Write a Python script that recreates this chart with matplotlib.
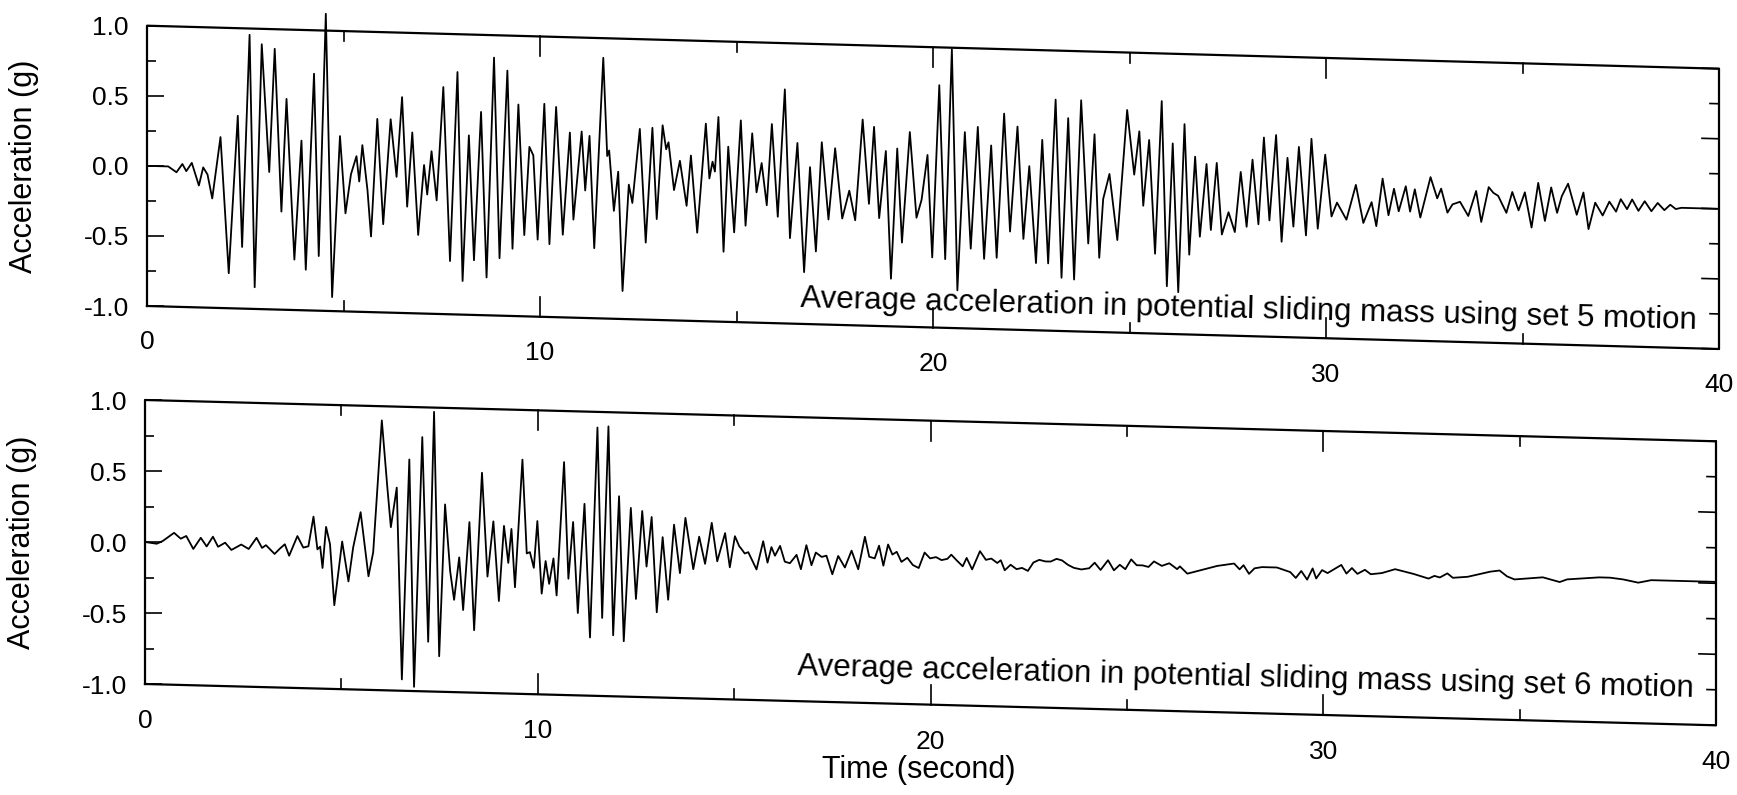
import numpy as np
import matplotlib
matplotlib.use("Agg")
import matplotlib.pyplot as plt
from matplotlib.transforms import Affine2D
from matplotlib.ticker import FormatStrFormatter

plt.rcParams["font.family"] = ["Liberation Sans", "DejaVu Sans"]
plt.rcParams["axes.unicode_minus"] = False

# set 5 motion: peaks and troughs (time s, acceleration g)
t5 = [0.0, 0.54, 0.75, 0.9, 1.0, 1.14, 1.32, 1.43, 1.54, 1.66, 1.87, 2.08, 2.31, 2.42, 2.61, 2.74,
      2.92, 3.11, 3.25, 3.42, 3.55, 3.75, 3.93, 4.04, 4.25, 4.37, 4.55, 4.71, 4.91, 5.05, 5.19, 5.33,
      5.4, 5.48, 5.61, 5.7, 5.86, 6.01, 6.2, 6.35, 6.49, 6.62, 6.75, 6.9, 7.05, 7.13, 7.24, 7.37,
      7.54, 7.71, 7.9, 8.03, 8.19, 8.32, 8.5, 8.64, 8.83, 8.97, 9.17, 9.3, 9.45, 9.6, 9.73, 9.83,
      9.94, 10.11, 10.24, 10.41, 10.58, 10.76, 10.85, 11.06, 11.15, 11.26, 11.38, 11.61, 11.71, 11.76,
      11.88, 11.99, 12.1, 12.26, 12.35, 12.54, 12.69, 12.86, 12.97, 13.12, 13.21, 13.27, 13.41, 13.56,
      13.73, 13.84, 14.0, 14.22, 14.31, 14.39, 14.45, 14.54, 14.67, 14.79, 14.94, 15.11, 15.23, 15.4,
      15.51, 15.64, 15.77, 15.9, 16.05, 16.23, 16.36, 16.55, 16.72, 16.87, 17.02, 17.17, 17.34, 17.51,
      17.69, 17.87, 18.02, 18.21, 18.37, 18.5, 18.63, 18.8, 18.93, 19.09, 19.21, 19.41, 19.58, 19.71,
      19.86, 19.98, 20.16, 20.31, 20.48, 20.62, 20.81, 20.96, 21.14, 21.3, 21.48, 21.62, 21.81, 21.96,
      22.15, 22.3, 22.45, 22.62, 22.78, 22.93, 23.12, 23.27, 23.44, 23.59, 23.77, 23.95, 24.11, 24.23,
      24.33, 24.49, 24.69, 24.94, 25.12, 25.25, 25.35, 25.5, 25.65, 25.82, 25.95, 26.1, 26.24, 26.4,
      26.52, 26.67, 26.79, 26.96, 27.07, 27.22, 27.35, 27.52, 27.68, 27.83, 27.98, 28.13, 28.28, 28.42,
      28.56, 28.73, 28.87, 29.02, 29.17, 29.31, 29.49, 29.63, 29.79, 29.98, 30.14, 30.28, 30.38, 30.52,
      30.76, 30.95, 31.16, 31.28, 31.44, 31.59, 31.73, 31.85, 32.03, 32.14, 32.26, 32.4, 32.66, 32.83,
      32.93, 33.09, 33.22, 33.41, 33.62, 33.82, 33.95, 34.14, 34.26, 34.38, 34.59, 34.74, 34.9, 35.06,
      35.23, 35.4, 35.57, 35.73, 35.88, 36.0, 36.16, 36.38, 36.55, 36.68, 36.85, 37.04, 37.21, 37.38,
      37.5, 37.66, 37.79, 37.95, 38.11, 38.28, 38.44, 38.61, 38.76, 38.9, 39.04, 39.23, 40.0]
acc5 = [0.0, 0.0, -0.04, 0.02, -0.03, 0.03, -0.13, 0.0, -0.05, -0.22, 0.22, -0.75, 0.375, -0.56, 0.955, -0.845,
        0.89, -0.02, 0.86, -0.30, 0.505, -0.64, 0.21, -0.71, 0.69, -0.61, 1.12, -0.90, 0.25, -0.30, -0.02, 0.11,
        -0.07, 0.19, -0.13, -0.46, 0.38, -0.37, 0.38, -0.03, 0.54, -0.24, 0.29, -0.44, 0.06, -0.15, 0.16, -0.19,
        0.62, -0.62, 0.73, -0.76, 0.28, -0.61, 0.45, -0.73, 0.84, -0.59, 0.75, -0.52, 0.51, -0.42, 0.21, 0.15,
        -0.45, 0.52, -0.48, 0.5, -0.41, 0.32, -0.3, 0.33, -0.09, 0.3, -0.5, 0.86, 0.16, 0.2,
        -0.23, 0.05, -0.8, -0.04, -0.17, 0.36, -0.45, 0.37, -0.28, 0.39, 0.22, 0.27, -0.07, 0.14,
        -0.18, 0.18, -0.37, 0.41, 0.02, 0.14, 0.07, 0.46, -0.5, 0.25, -0.36, 0.44, -0.31, 0.35,
        -0.07, 0.14, -0.16, 0.42, -0.24, 0.67, -0.39, 0.29, -0.63, 0.12, -0.48, 0.3, -0.25, 0.26,
        -0.24, -0.04, -0.25, 0.47, -0.13, 0.42, -0.23, 0.25, -0.66, 0.27, -0.4, 0.39, -0.22, -0.09,
        0.23, -0.5, 0.73, -0.51, 0.99, -0.73, 0.4, -0.43, 0.44, -0.5, 0.31, -0.49, 0.54, -0.3,
        0.45, -0.35, 0.17, -0.52, 0.36, -0.52, 0.65, -0.62, 0.52, -0.63, 0.65, -0.37, 0.41, -0.47,
        -0.05, 0.13, -0.34, 0.59, 0.13, 0.44, -0.09, 0.38, -0.43, 0.66, -0.66, 0.36, -0.7, 0.5,
        -0.43, 0.27, -0.3, 0.22, -0.25, 0.23, -0.28, -0.12, -0.26, 0.17, -0.22, 0.26, -0.2, 0.42,
        -0.17, 0.44, -0.32, 0.28, -0.21, 0.36, -0.27, 0.42, -0.22, 0.31, -0.13, -0.03, -0.08, -0.15,
        0.10, -0.17, -0.02, -0.19, 0.15, -0.11, 0.08, -0.08, 0.10, -0.08, 0.08, -0.12, 0.17, 0.02,
        0.09, -0.08, -0.02, 0.0, -0.1, 0.08, -0.14, 0.11, 0.07, 0.05, -0.07, 0.08, -0.05, 0.08,
        -0.17, 0.15, -0.12, 0.12, -0.06, 0.06, 0.15, -0.07, 0.09, -0.17, 0.02, -0.07, 0.03, -0.04,
        0.05, -0.02, 0.05, -0.03, 0.04, -0.03, 0.03, -0.02, 0.02, -0.01, 0.0, 0.0, 0.0]

# set 6 motion
t6 = [0.0, 0.3, 0.45, 0.74, 0.91, 1.05, 1.23, 1.42, 1.57, 1.73, 1.86, 2.04, 2.2, 2.45, 2.64, 2.84,
      2.98, 3.08, 3.3, 3.44, 3.56, 3.67, 3.88, 4.03, 4.16, 4.29, 4.39, 4.46, 4.52, 4.61, 4.71, 4.82,
      5.02, 5.18, 5.3, 5.49, 5.69, 5.81, 6.03, 6.17, 6.26, 6.41, 6.54, 6.73, 6.85, 7.06, 7.21, 7.36,
      7.49, 7.64, 7.77, 7.87, 8.0, 8.1, 8.26, 8.38, 8.58, 8.72, 8.87, 9.01, 9.14, 9.25, 9.33, 9.42,
      9.61, 9.72, 9.8, 9.9, 9.99, 10.1, 10.2, 10.29, 10.4, 10.48, 10.67, 10.78, 10.9, 11.02, 11.19, 11.33,
      11.52, 11.64, 11.8, 11.92, 12.07, 12.19, 12.37, 12.5, 12.66, 12.77, 12.9, 13.03, 13.18, 13.32, 13.47, 13.62,
      13.76, 13.96, 14.11, 14.26, 14.43, 14.57, 14.77, 14.89, 15.02, 15.13, 15.19, 15.27, 15.36, 15.57, 15.74, 15.85,
      15.95, 16.04, 16.17, 16.29, 16.42, 16.59, 16.7, 16.84, 16.97, 17.08, 17.23, 17.35, 17.5, 17.65, 17.82, 17.99,
      18.16, 18.33, 18.44, 18.58, 18.69, 18.8, 18.92, 19.03, 19.14, 19.26, 19.41, 19.55, 19.7, 19.85, 19.99, 20.14,
      20.28, 20.43, 20.53, 20.67, 20.82, 20.92, 21.06, 21.26, 21.41, 21.55, 21.7, 21.79, 21.89, 22.04, 22.19, 22.33,
      22.48, 22.62, 22.77, 22.92, 23.06, 23.21, 23.35, 23.5, 23.65, 23.84, 24.04, 24.18, 24.33, 24.52, 24.67, 24.82,
      24.96, 25.11, 25.25, 25.4, 25.55, 25.69, 25.89, 26.08, 26.28, 26.35, 26.54, 26.92, 27.3, 27.73, 27.87, 27.97,
      28.11, 28.25, 28.44, 28.82, 29.16, 29.3, 29.44, 29.59, 29.73, 29.82, 29.97, 30.11, 30.46, 30.59, 30.73, 30.87,
      31.06, 31.21, 31.49, 31.83, 32.3, 32.68, 32.83, 32.97, 33.16, 33.3, 33.68, 34.25, 34.49, 34.68, 34.87, 35.59,
      36.02, 36.21, 37.02, 37.3, 37.64, 38.02, 38.35, 39.11, 40.0]
acc6 = [0.0, -0.01, 0.01, 0.07, 0.03, 0.05, -0.04, 0.04, -0.02, 0.05, -0.02, 0.01, -0.04, 0.0, -0.03, 0.05,
        -0.02, 0.0, -0.06, -0.02, 0.01, -0.07, 0.07, -0.01, 0.0, 0.21, -0.02, 0.0, -0.15, 0.14, 0.02, -0.41,
        0.04, -0.24, 0.0, 0.25, -0.2, -0.03, 0.9, 0.43, 0.15, 0.43, -0.92, 0.63, -0.97, 0.79, -0.65, 0.97,
        -0.75, 0.32, -0.15, -0.35, -0.05, -0.42, 0.2, -0.56, 0.55, -0.18, 0.21, -0.35, 0.18, -0.08, 0.16, -0.25,
        0.65, -0.01, 0.0, -0.11, 0.22, -0.29, -0.06, -0.22, -0.04, -0.3, 0.64, -0.18, 0.22, -0.42, 0.35, -0.59,
        0.89, -0.45, 0.9, -0.57, 0.41, -0.61, 0.33, -0.31, 0.31, -0.08, 0.27, -0.4, 0.13, -0.31, 0.22, -0.12,
        0.27, -0.09, 0.14, -0.05, 0.24, -0.03, 0.17, -0.07, 0.15, 0.08, 0.06, 0.03, 0.04, -0.08, 0.12, -0.03,
        0.08, 0.02, 0.09, -0.02, -0.03, 0.03, -0.07, 0.1, -0.04, 0.05, 0.02, 0.03, -0.1, 0.03, -0.05, 0.07,
        -0.06, 0.17, 0.03, 0.02, 0.11, -0.03, 0.12, 0.05, 0.07, 0.0, 0.03, -0.02, -0.04, 0.07, 0.03, 0.04,
        0.02, 0.03, 0.06, 0.02, -0.02, 0.04, -0.04, 0.09, 0.03, 0.04, 0.01, 0.03, -0.04, 0.0, -0.03, -0.02,
        -0.04, 0.02, 0.04, 0.03, 0.03, 0.05, 0.04, 0.01, -0.01, -0.02, -0.01, 0.03, -0.02, 0.05, -0.02, 0.02,
        -0.01, 0.06, 0.02, 0.02, 0.01, 0.05, 0.02, 0.04, 0.0, 0.02, -0.03, 0.0, 0.03, 0.05, 0.01, 0.04,
        -0.02, 0.02, 0.03, 0.03, 0.0, -0.04, 0.01, -0.05, 0.03, -0.04, 0.02, 0.0, 0.06, 0.0, 0.04, 0.0,
        0.03, 0.0, 0.01, 0.04, 0.01, -0.02, 0.0, -0.01, 0.02, -0.01, 0.0, 0.04, 0.05, 0.01, -0.01, 0.01,
        -0.02, 0.0, 0.02, 0.02, 0.01, -0.01, 0.01, 0.01, 0.01]

x_ticks = [0, 5, 10, 15, 20, 25, 30, 35, 40]
x_labels = ["0", "10", "20", "30", "40"]
y_major = [-1.0, -0.5, 0.0, 0.5, 1.0]
y_minor = [-0.75, -0.25, 0.25, 0.75]
notes = ["Average acceleration in potential sliding mass using set 5 motion",
         "Average acceleration in potential sliding mass using set 6 motion"]


def draw_panel(ax, t, acc, skew, note, label_gap, note_y):
    # the scanned frame is sheared: right side sits lower than the left
    frame = Affine2D(np.array([[1, 0, 0], [-skew, 1, 0], [0, 0, 1]])) + ax.transAxes
    ax.set_xlim(0, 40)
    ax.set_ylim(-1, 1)
    for sp in ax.spines.values():
        sp.set_visible(False)
    w = ax.bbox.width
    h = ax.bbox.height

    ax.plot(t, acc, color="black", lw=1.3, clip_on=False, solid_joinstyle="round",
            transform=ax.transScale + ax.transLimits + frame)
    ax.plot([0, 1, 1, 0, 0], [0, 0, 1, 1, 0], color="black", lw=1.6,
            transform=frame, clip_on=False)

    ax.set_xticks([])
    ax.set_yticks(y_major)
    ax.set_yticks(y_minor, minor=True)
    ax.yaxis.set_major_formatter(FormatStrFormatter("%.1f"))
    ax.tick_params(axis="y", which="major", direction="in", length=12.5, width=1.2,
                   labelsize=19, pad=13)
    ax.tick_params(axis="y", which="minor", direction="in", length=6.5, width=1.2)

    for tv in x_ticks:
        xf = ax.transLimits.transform((tv, 0))[0]
        ln = (20 if tv % 10 == 0 else 10) / h
        ax.plot([xf, xf], [0, ln], color="black", lw=1.2, transform=frame, clip_on=False)
        ax.plot([xf, xf], [1 - ln, 1], color="black", lw=1.2, transform=frame, clip_on=False)
        if tv % 10 == 0:
            ax.text(xf, -label_gap, x_labels[tv // 10], transform=frame, fontsize=19,
                    ha="center", va="center")
    for yv in y_major + y_minor:
        yf = ax.transLimits.transform((0, yv))[1]
        ln = (17 if yv in y_major else 9) / w
        ax.plot([1 - ln, 1], [yf, yf], color="black", lw=1.2, transform=frame, clip_on=False)

    ax.text(0.4154, note_y, note, transform=frame, fontsize=22.5, ha="left", va="baseline",
            rotation=-1.4, rotation_mode="anchor")
    ax.set_ylabel("Acceleration (g)", fontsize=22)
    ax.yaxis.set_label_coords(-0.069, 0.5)


fig = plt.figure(figsize=(17.37, 7.95), dpi=100)
ax1 = fig.add_axes([0.08463, 0.61509, 0.90501, 0.35258])
ax2 = fig.add_axes([0.08348, 0.13962, 0.90443, 0.35723])

draw_panel(ax1, t5, acc5, 0.1534, notes[0], 0.13, 0.0605)
draw_panel(ax2, t6, acc6, 0.1454, notes[1], 0.13, 0.0915)

fig.text(919 / 1737, 1 - 770 / 795, "Time (second)", fontsize=22, ha="center", va="center")

fig.savefig("out.png", dpi=100)
plt.close()
